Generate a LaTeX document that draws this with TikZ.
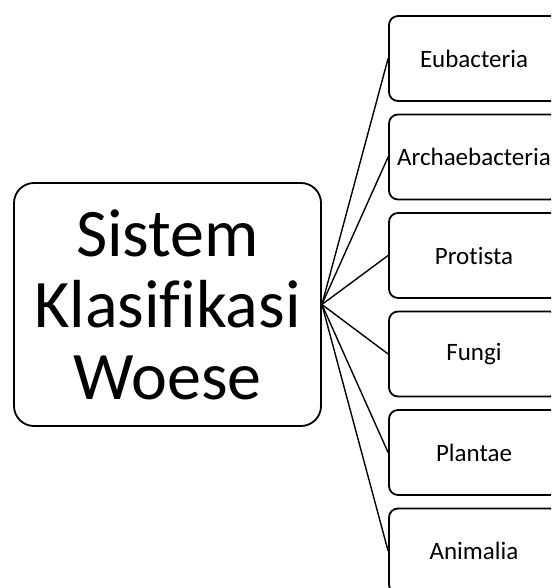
\documentclass[tikz,border=0pt]{standalone}
\usepackage{fontspec}
\setmainfont{Carlito}[Ligatures=NoCommon]
\begin{document}
\begin{tikzpicture}[x=1pt,y=-1pt,
  bigbox/.style={draw=black, line width=1.8pt, rounded corners=20pt, minimum width=307pt, minimum height=243pt, align=center, inner sep=0pt, font=\fontsize{68}{71.5}\selectfont},
  smallbox/.style={draw=black, line width=1.8pt, rounded corners=9pt, minimum width=170pt, minimum height=85pt, inner sep=0pt, font=\fontsize{25}{30}\selectfont},
  link/.style={draw=black, line width=1.4pt}]
\useasboundingbox (0,0) rectangle (551,588);
\clip (0,0) rectangle (551,588);
\fill[white] (0,0) rectangle (551,588);
\node[bigbox] (root) at (167.5,304.5) {Sistem\\Klasifikasi\\Woese};
\node[smallbox] (b1) at (474,58.5) {Eubacteria};
\node[smallbox] (b2) at (474,157) {Archaebacteria};
\node[smallbox] (b3) at (474,255.5) {Protista};
\node[smallbox] (b4) at (474,354) {Fungi};
\node[smallbox] (b5) at (474,452.5) {Plantae};
\node[smallbox] (b6) at (474,551) {Animalia};
\foreach \b in {b1,b2,b3,b4,b5,b6}
  \draw[link] (root.east) -- (\b.west);
\end{tikzpicture}
\end{document}
